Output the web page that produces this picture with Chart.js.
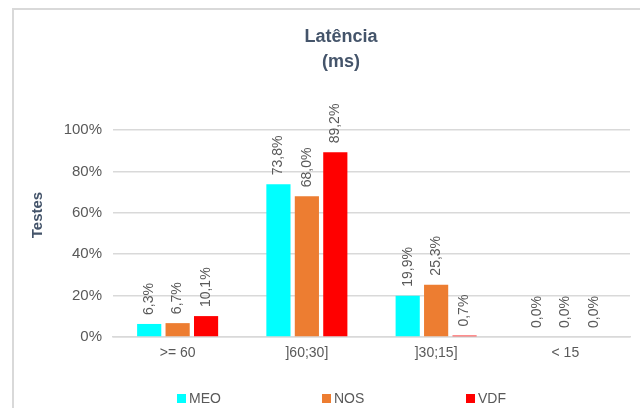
<!DOCTYPE html>
<html>
<head>
<meta charset="utf-8">
<script src="https://cdn.jsdelivr.net/npm/chart.js@4.4.1/dist/chart.umd.min.js"></script>
<style>
  html, body { margin: 0; padding: 0; background: #fff; }
  #wrap { position: relative; width: 640px; height: 408px; overflow: hidden; }
  #frame { position: absolute; left: 12px; top: 8px; width: 700px; height: 500px;
           border-left: 2px solid #d9d9d9; border-top: 2px solid #d9d9d9; }
  canvas { position: absolute; left: 0; top: 0; }
</style>
</head>
<body>
<div id="wrap">
  <div id="frame"></div>
  <canvas id="chart" width="640" height="408"></canvas>
</div>
<script>
const categories = [">= 60", "]60;30]", "]30;15]", "< 15"];
const meo = [6.3, 73.8, 19.9, 0.0];
const nos = [6.7, 68.0, 25.3, 0.0];
const vdf = [10.1, 89.2, 0.7, 0.0];
const yTicks = [0, 20, 40, 60, 80, 100];
const titleLines = ["Latência", "(ms)"];
const yTitle = "Testes";

const FONT = "'Liberation Sans Narrow', 'Liberation Sans', Arial, sans-serif";
const TEXT = "#595959";
const DARK = "#44546A";

const fmt = (v) => v.toFixed(1).replace(".", ",") + "%";

// titles, rotated value labels and the legend
const decor = {
  id: "decor",
  afterDatasetsDraw(chart) {
    const ctx = chart.ctx;
    ctx.save();
    ctx.font = `14px ${FONT}`;
    ctx.fillStyle = TEXT;
    ctx.textAlign = "left";
    ctx.textBaseline = "middle";
    chart.data.datasets.forEach((ds, i) => {
      chart.getDatasetMeta(i).data.forEach((bar, j) => {
        ctx.save();
        ctx.translate(bar.x, bar.y - 9);
        ctx.rotate(-Math.PI / 2);
        ctx.fillText(fmt(ds.data[j]), 0, 0);
        ctx.restore();
      });
    });

    ctx.fillStyle = DARK;
    ctx.font = `bold 18px ${FONT}`;
    ctx.textAlign = "center";
    titleLines.forEach((t, k) => ctx.fillText(t, 341, 37 + k * 25));

    ctx.save();
    ctx.font = `bold 15px ${FONT}`;
    ctx.translate(38, 215);
    ctx.rotate(-Math.PI / 2);
    ctx.fillText(yTitle, 0, 0);
    ctx.restore();

    // legend
    ctx.font = `14px ${FONT}`;
    ctx.textAlign = "left";
    const legendX = [177, 322, 466];
    chart.data.datasets.forEach((ds, i) => {
      ctx.fillStyle = ds.backgroundColor;
      ctx.fillRect(legendX[i], 394, 9, 9);
      ctx.fillStyle = TEXT;
      ctx.fillText(ds.label, legendX[i] + 12, 399);
    });
    ctx.restore();
  },
};

new Chart(document.getElementById("chart"), {
  type: "bar",
  data: {
    labels: categories,
    datasets: [
      { label: "MEO", data: meo, backgroundColor: "#00FFFF" },
      { label: "NOS", data: nos, backgroundColor: "#ED7D31" },
      { label: "VDF", data: vdf, backgroundColor: "#FF0000" },
    ],
  },
  options: {
    responsive: false,
    animation: false,
    layout: { padding: { top: 130, right: 10, bottom: 41, left: 0 } },
    datasets: { bar: { categoryPercentage: 0.66, barPercentage: 0.85 } },
    plugins: { legend: { display: false }, title: { display: false }, tooltip: { enabled: false } },
    scales: {
      x: {
        grid: { display: false, drawTicks: false },
        border: { color: "#d9d9d9", width: 1.5 },
        ticks: { color: TEXT, font: { family: FONT, size: 14 }, padding: 8 },
        afterFit: (s) => { s.height = 30; },
      },
      y: {
        min: 0, max: 100,
        afterBuildTicks: (s) => { s.ticks = yTicks.map((v) => ({ value: v })); },
        grid: { color: "#d9d9d9", lineWidth: 1.5, drawTicks: false },
        border: { display: false },
        ticks: { color: TEXT, font: { family: FONT, size: 15 }, padding: 11, callback: (v) => v + "%" },
        afterFit: (s) => { s.width = 113; },
      },
    },
  },
  plugins: [decor],
});
</script>
</body>
</html>
